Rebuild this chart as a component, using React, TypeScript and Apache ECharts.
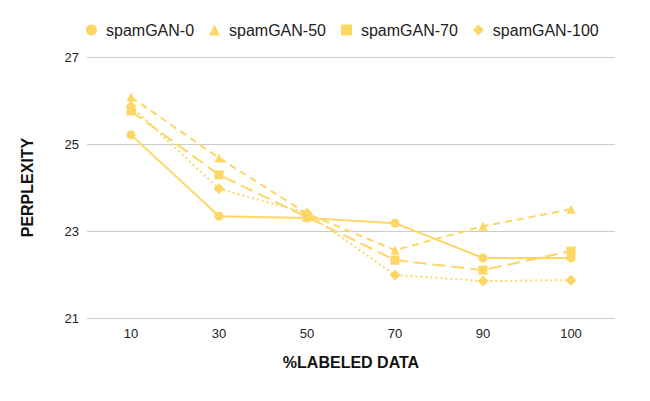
import React, { useEffect, useRef } from "react";
import * as echarts from "echarts";

const categories = ["10", "30", "50", "70", "90", "100"];
const spamGAN0 = [25.21, 23.34, 23.3, 23.18, 22.38, 22.38];
const spamGAN50 = [26.08, 24.68, 23.4, 22.56, 23.11, 23.5];
const spamGAN70 = [25.76, 24.29, 23.32, 22.33, 22.1, 22.54];
const spamGAN100 = [25.87, 23.97, 23.41, 21.99, 21.85, 21.87];
const seriesNames = ["spamGAN-0", "spamGAN-50", "spamGAN-70", "spamGAN-100"];
const yTicks = [21, 23, 25, 27];

const COLOR = "#fdd663";

export default function App() {
  const ref = useRef<HTMLDivElement>(null);
  useEffect(() => {
    if (!ref.current) return;
    const chart = echarts.init(ref.current, null, { renderer: "svg" });
    const font = "'Liberation Sans', Arial, sans-serif";
    const mk = (name: string, data: number[], symbol: string, type: any, size: number) => ({
      name,
      type: "line",
      data,
      symbol,
      symbolSize: size,
      showSymbol: true,
      itemStyle: { color: COLOR },
      lineStyle: { color: COLOR, width: 2, type },
    });
    chart.setOption({
      animation: false,
      textStyle: { fontFamily: font },
      legend: {
        left: 81,
        top: 17,
        itemWidth: 11,
        itemHeight: 11,
        itemGap: 15,
        data: [
          { name: seriesNames[0], icon: "circle" },
          { name: seriesNames[1], icon: "triangle" },
          { name: seriesNames[2], icon: "rect" },
          { name: seriesNames[3], icon: "diamond" },
        ],
        textStyle: { fontSize: 16, color: "#222", fontFamily: font, padding: [0, 0, 0, 4] },
      },
      grid: { left: 87, right: 35, top: 57, bottom: 83, containLabel: false },
      xAxis: {
        type: "category",
        data: categories,
        boundaryGap: true,
        axisLine: { show: false },
        axisTick: { show: false },
        axisLabel: { color: "#222", fontSize: 13, margin: 9, fontFamily: font },
        name: "%LABELED DATA",
        nameLocation: "middle",
        nameGap: 36,
        nameTextStyle: { fontSize: 16, fontWeight: "bold", color: "#111", fontFamily: font },
      },
      yAxis: {
        type: "value",
        min: yTicks[0],
        max: yTicks[yTicks.length - 1],
        interval: 2,
        axisLine: { show: false },
        axisTick: { show: false },
        axisLabel: { color: "#222", fontSize: 13, margin: 8, fontFamily: font },
        splitLine: { lineStyle: { color: "#cccccc", width: 1 } },
        name: "PERPLEXITY",
        nameLocation: "middle",
        nameGap: 52,
        nameTextStyle: { fontSize: 16, fontWeight: "bold", color: "#111", fontFamily: font },
      },
      series: [
        mk(seriesNames[0], spamGAN0, "circle", "solid", 9),
        mk(seriesNames[1], spamGAN50, "triangle", [7, 5], 9),
        mk(seriesNames[2], spamGAN70, "rect", [13, 6], 9),
        mk(seriesNames[3], spamGAN100, "diamond", [2, 3], 11),
      ],
    });
    return () => chart.dispose();
  }, []);
  return <div ref={ref} style={{ width: 650, height: 401, position: "absolute", left: 0, top: 0 }} />;
}
